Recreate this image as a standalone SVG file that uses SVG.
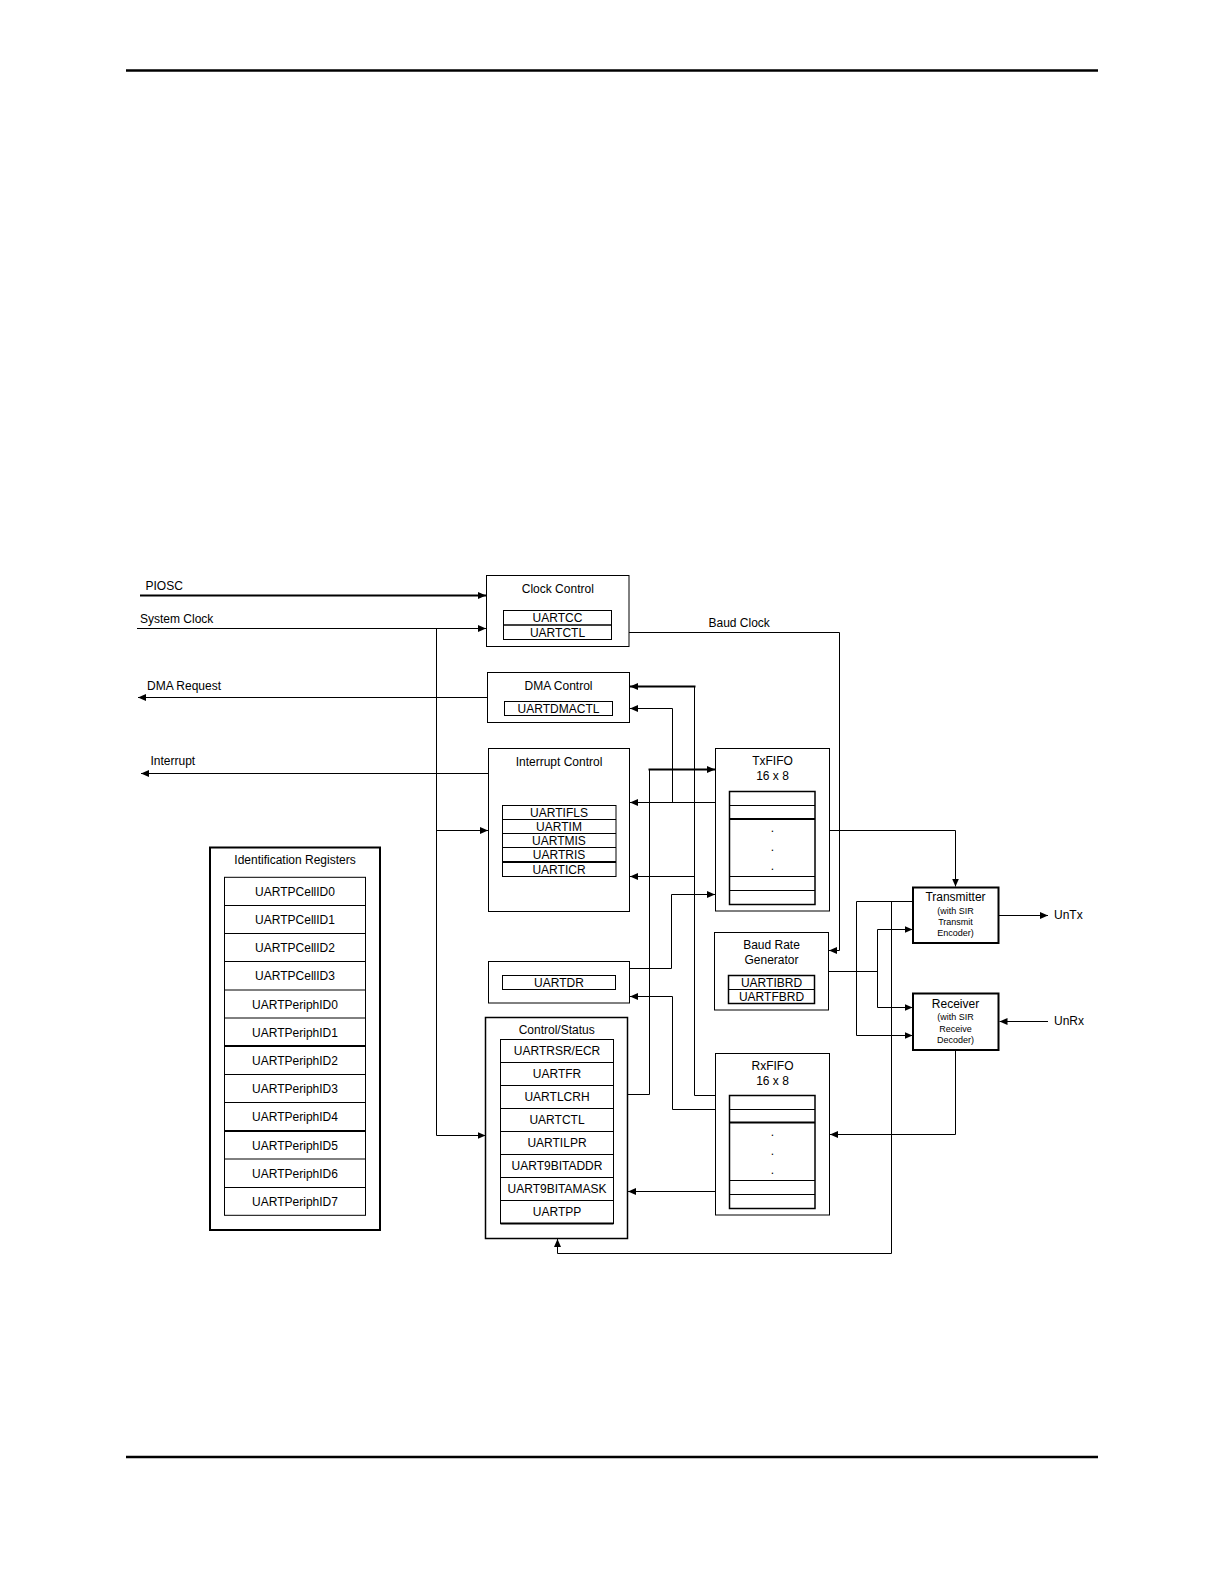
<svg xmlns="http://www.w3.org/2000/svg" width="1224" height="1584" viewBox="0 0 1224 1584">
<style>
text{font-family:"Liberation Sans",Arial,sans-serif;font-size:12px;fill:#000}
.c{text-anchor:middle}
.s{font-size:9px}
.b{fill:#fff;stroke:#000;stroke-width:1}
.bt{fill:#fff;stroke:#000;stroke-width:2}
.r{fill:none;stroke:#000;stroke-width:1}
.w{fill:none;stroke:#000;stroke-width:1}
.wt{fill:none;stroke:#000;stroke-width:2}
.rule{stroke:#000;stroke-width:2.5}
</style>
<defs>
<marker id="a" markerUnits="userSpaceOnUse" markerWidth="9" markerHeight="8" refX="8" refY="3.5" orient="auto"><path d="M0,0 L8,3.5 L0,7 z" fill="#000"/></marker>
</defs>
<rect width="1224" height="1584" fill="#fff"/>
<line class="rule" x1="126" y1="70.5" x2="1098" y2="70.5"/>
<line class="rule" x1="126" y1="1457" x2="1098" y2="1457"/>

<g id="connectors">
<text x="145.5" y="590">PIOSC</text>
<path class="wt" d="M140,595.5 H486" marker-end="url(#a)"/>
<text x="140" y="622.5">System Clock</text>
<path class="w" d="M137,628.5 H486" marker-end="url(#a)"/>
<path class="w" d="M436.5,628.5 V1135.5"/>
<path class="w" d="M436.5,830.5 H488" marker-end="url(#a)"/>
<path class="w" d="M436.5,1135.5 H485.5" marker-end="url(#a)"/>
<text x="147" y="689.5">DMA Request</text>
<path class="w" d="M487.5,697.5 H138" marker-end="url(#a)"/>
<text x="150.5" y="764.5">Interrupt</text>
<path class="w" d="M488.5,773.5 H141" marker-end="url(#a)"/>
<text x="708.5" y="626.5">Baud Clock</text>
<path class="w" d="M629,632.5 H839.5 V950.5 H829" marker-end="url(#a)"/>
<path class="w" d="M715.5,1095.5 H694.5 V686.5"/>
<path class="wt" d="M695.5,686.5 H630" marker-end="url(#a)"/>
<path class="w" d="M694.5,876.5 H630" marker-end="url(#a)"/>
<path class="w" d="M715.5,802.5 H630" marker-end="url(#a)"/>
<path class="w" d="M672.5,802.5 V708.5 H630" marker-end="url(#a)"/>
<path class="w" d="M627.5,1094.5 H649.5 V769.5"/>
<path class="wt" d="M648.5,769.5 H715" marker-end="url(#a)"/>
<path class="w" d="M629.5,968.5 H671.5 V894.5 H715" marker-end="url(#a)"/>
<path class="w" d="M715.5,1109.5 H672.5 V996.5 H630" marker-end="url(#a)"/>
<path class="w" d="M715.5,1191.5 H628" marker-end="url(#a)"/>
<path class="w" d="M829.5,830.5 H955.5 V886.5" marker-end="url(#a)"/>
<path class="w" d="M828.5,971.5 H877.5"/>
<path class="w" d="M877.5,929.5 V1007.5"/>
<path class="w" d="M877.5,929.5 H912.5" marker-end="url(#a)"/>
<path class="w" d="M877.5,1007.5 H912.5" marker-end="url(#a)"/>
<path class="w" d="M913,901.5 H856.5 V1035.5 H912.5" marker-end="url(#a)"/>
<path class="w" d="M891.5,901.5 V1253.5 H557.5 V1239" marker-end="url(#a)"/>
<path class="w" d="M999,915.5 H1048" marker-end="url(#a)"/>
<text x="1054" y="919">UnTx</text>
<path class="w" d="M1048,1021.5 H999.5" marker-end="url(#a)"/>
<text x="1054" y="1025">UnRx</text>
<path class="w" d="M955.5,1050 V1134.5 H830" marker-end="url(#a)"/>
</g>

<g id="clock-control">
<rect class="b" x="486.5" y="575.5" width="142.5" height="71"/>
<text class="c" x="557.8" y="592.5">Clock Control</text>
<rect class="r" x="503.5" y="610.5" width="108" height="14.5"/>
<rect class="r" x="503.5" y="625" width="108" height="14.5"/>
<text class="c" x="557.5" y="622">UARTCC</text>
<text class="c" x="557.5" y="636.5">UARTCTL</text>
</g>

<g id="dma-control">
<rect class="b" x="487.5" y="672.5" width="142" height="50"/>
<text class="c" x="558.5" y="690">DMA Control</text>
<rect class="r" x="504.5" y="701.5" width="108" height="14"/>
<text class="c" x="558.5" y="712.8">UARTDMACTL</text>
</g>

<g id="interrupt-control">
<rect class="b" x="488.5" y="748.5" width="141" height="163"/>
<text class="c" x="559" y="766">Interrupt Control</text>
<rect class="r" x="502.5" y="805.5" width="113.5" height="71"/>
<path class="w" d="M502.5,819.5 H616 M502.5,833.5 H616 M502.5,847.5 H616"/>
<path class="wt" d="M502.5,862 H616"/>
<text class="c" x="559" y="816.8">UARTIFLS</text>
<text class="c" x="559" y="830.8">UARTIM</text>
<text class="c" x="559" y="844.8">UARTMIS</text>
<text class="c" x="559" y="859">UARTRIS</text>
<text class="c" x="559" y="873.5">UARTICR</text>
</g>

<g id="uartdr">
<rect class="b" x="488.5" y="961.5" width="141" height="41.5"/>
<rect class="r" x="502.5" y="975.5" width="113" height="14"/>
<text class="c" x="559" y="986.8">UARTDR</text>
</g>

<g id="control-status">
<rect class="b" x="485.5" y="1017.5" width="142" height="221" style="stroke-width:1.5"/>
<text class="c" x="556.7" y="1034.3">Control/Status</text>
<rect class="r" x="500.5" y="1039.5" width="113" height="184"/>
<path class="w" d="M500.5,1062.5 H613.5 M500.5,1085.5 H613.5 M500.5,1108.5 H613.5 M500.5,1131.5 H613.5 M500.5,1154.5 H613.5 M500.5,1177.5 H613.5 M500.5,1200.5 H613.5"/>
<path class="wt" d="M500.5,1223.5 H613.5"/>
<text class="c" x="557" y="1055.3">UARTRSR/ECR</text>
<text class="c" x="557" y="1078.3">UARTFR</text>
<text class="c" x="557" y="1101.3">UARTLCRH</text>
<text class="c" x="557" y="1124.3">UARTCTL</text>
<text class="c" x="557" y="1147.3">UARTILPR</text>
<text class="c" x="557" y="1170.3">UART9BITADDR</text>
<text class="c" x="557" y="1193.3">UART9BITAMASK</text>
<text class="c" x="557" y="1216.3">UARTPP</text>
</g>

<g id="identification-registers">
<rect class="b" x="210" y="847.5" width="170" height="382.5" style="stroke-width:2"/>
<text class="c" x="295" y="864.3">Identification Registers</text>
<rect class="r" x="224.5" y="877.3" width="141" height="338"/>
<path class="w" d="M224.5,905.5 H365.5 M224.5,933.5 H365.5 M224.5,961.5 H365.5 M224.5,990 H365.5 M224.5,1018 H365.5 M224.5,1074.5 H365.5 M224.5,1102.5 H365.5 M224.5,1159 H365.5 M224.5,1187.5 H365.5"/>
<path class="wt" d="M224.5,1046 H365.5 M224.5,1131 H365.5"/>
<text class="c" x="295" y="895.5">UARTPCellID0</text>
<text class="c" x="295" y="923.5">UARTPCellID1</text>
<text class="c" x="295" y="951.5">UARTPCellID2</text>
<text class="c" x="295" y="980">UARTPCellID3</text>
<text class="c" x="295" y="1008.5">UARTPeriphID0</text>
<text class="c" x="295" y="1036.5">UARTPeriphID1</text>
<text class="c" x="295" y="1064.5">UARTPeriphID2</text>
<text class="c" x="295" y="1093">UARTPeriphID3</text>
<text class="c" x="295" y="1121">UARTPeriphID4</text>
<text class="c" x="295" y="1149.5">UARTPeriphID5</text>
<text class="c" x="295" y="1177.5">UARTPeriphID6</text>
<text class="c" x="295" y="1206">UARTPeriphID7</text>
</g>

<g id="txfifo">
<rect class="b" x="715.5" y="748.5" width="114" height="162.5"/>
<text class="c" x="772.5" y="765">TxFIFO</text>
<text class="c" x="772.5" y="780">16 x 8</text>
<rect class="r" x="729.5" y="791.5" width="85.5" height="113" style="stroke-width:1.5"/>
<path class="w" d="M729.5,805.5 H815 M729.5,876.5 H815 M729.5,890.5 H815"/>
<path class="wt" d="M729.5,819 H815"/>
<text class="c" x="772.5" y="832">.</text>
<text class="c" x="772.5" y="851">.</text>
<text class="c" x="772.5" y="870">.</text>
</g>

<g id="baud-rate-generator">
<rect class="b" x="714.5" y="932.5" width="114" height="77.5"/>
<text class="c" x="771.5" y="949">Baud Rate</text>
<text class="c" x="771.5" y="964.3">Generator</text>
<rect class="r" x="728.5" y="975.5" width="86" height="28" style="stroke-width:1.5"/>
<path class="w" d="M728.5,989.5 H814.5"/>
<text class="c" x="771.5" y="986.8">UARTIBRD</text>
<text class="c" x="771.5" y="1000.8">UARTFBRD</text>
</g>

<g id="rxfifo">
<rect class="b" x="715.5" y="1053.5" width="114" height="161.5"/>
<text class="c" x="772.5" y="1070">RxFIFO</text>
<text class="c" x="772.5" y="1085">16 x 8</text>
<rect class="r" x="729.5" y="1095.5" width="85.5" height="113" style="stroke-width:1.5"/>
<path class="w" d="M729.5,1109.5 H815 M729.5,1180.5 H815 M729.5,1194.5 H815"/>
<path class="wt" d="M729.5,1122.5 H815"/>
<text class="c" x="772.5" y="1136">.</text>
<text class="c" x="772.5" y="1155">.</text>
<text class="c" x="772.5" y="1174">.</text>
</g>

<g id="transmitter">
<rect class="bt" x="913" y="887.5" width="85.5" height="55.5"/>
<text class="c" x="955.5" y="901">Transmitter</text>
<text class="c s" x="955.5" y="914.3">(with SIR</text>
<text class="c s" x="955.5" y="925">Transmit</text>
<text class="c s" x="955.5" y="936">Encoder)</text>
</g>

<g id="receiver">
<rect class="bt" x="913" y="993.5" width="85.5" height="56.5"/>
<text class="c" x="955.5" y="1007.7">Receiver</text>
<text class="c s" x="955.5" y="1020">(with SIR</text>
<text class="c s" x="955.5" y="1031.5">Receive</text>
<text class="c s" x="955.5" y="1042.5">Decoder)</text>
</g>
</svg>
